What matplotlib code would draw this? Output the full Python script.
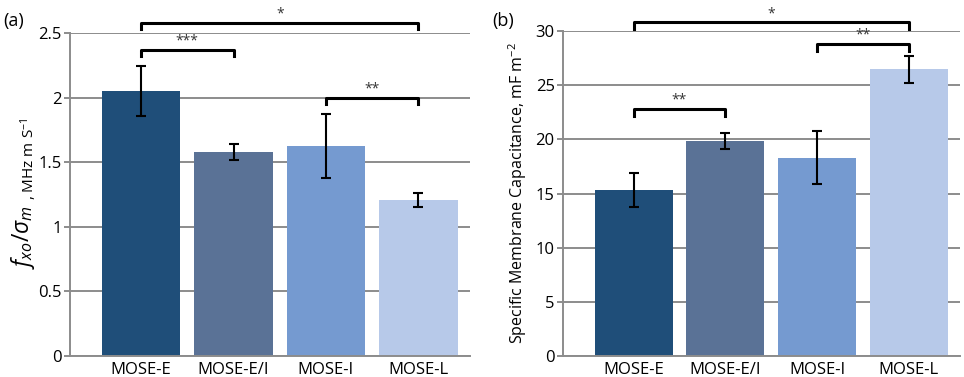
import matplotlib.pyplot as plt

plt.rcParams['font.family'] = ['Open Sans', 'DejaVu Sans']
plt.rcParams['mathtext.fontset'] = 'custom'
plt.rcParams['mathtext.it'] = 'Open Sans:italic'
plt.rcParams['mathtext.rm'] = 'Open Sans'

groups = ['MOSE-E', 'MOSE-E/I', 'MOSE-I', 'MOSE-L']
colors = ['#1F4E79', '#5A7296', '#759AD0', '#B7C9E9']

fxo_vals = [2.05, 1.58, 1.625, 1.21]
fxo_err = [0.195, 0.06, 0.245, 0.055]
fxo_sig = [(0, 3, 2.58, '*'), (0, 1, 2.37, '***'), (2, 3, 2.0, '**')]

cap_vals = [15.35, 19.85, 18.3, 26.45]
cap_err = [1.55, 0.7, 2.45, 1.25]
cap_sig = [(0, 3, 30.8, '*'), (0, 1, 22.8, '**'), (2, 3, 28.8, '**')]

grid_col = '#8C8C8C'

fig = plt.figure(figsize=(9.64, 3.77), dpi=100)
ax1 = fig.add_axes([0.0726, 0.0557, 0.415, 0.8568])
ax2 = fig.add_axes([0.584, 0.0557, 0.412, 0.862])


def draw_panel(ax, vals, errs, sig, ymax, ystep, bh):
    x = range(len(groups))
    ax.set_axisbelow(True)
    ax.yaxis.grid(True, color=grid_col, linewidth=1.4)
    ax.bar(x, vals, width=0.85, color=colors, zorder=2)
    ax.errorbar(x, vals, yerr=errs, fmt='none', ecolor='black',
                elinewidth=1.5, capsize=3.5, capthick=1.5, zorder=3)
    ax.set_xlim(-0.77, 3.56)
    ax.set_ylim(0, ymax)
    ticks = [i * ystep for i in range(int(round(ymax / ystep)) + 1)]
    ax.set_yticks(ticks)
    ax.set_yticklabels([('%g' % t) for t in ticks])
    ax.set_xticks(list(x))
    ax.set_xticklabels(groups)
    for s in ['top', 'right']:
        ax.spines[s].set_visible(False)
    for s in ['left', 'bottom']:
        ax.spines[s].set_color(grid_col)
        ax.spines[s].set_linewidth(1.4)
    ax.tick_params(axis='y', length=4, width=1.4, color=grid_col,
                   labelsize=12, pad=2)
    ax.tick_params(axis='x', length=0, labelsize=12, pad=4)
    for a, b, h, lab in sig:
        ax.plot([a, a, b, b], [h - bh, h, h, h - bh], color='black',
                linewidth=2.2, clip_on=False, zorder=4)
        ax.text((a + b) / 2, h + bh * 0.2, lab, ha='center', va='bottom',
                fontsize=10, color='#333333', clip_on=False)


draw_panel(ax1, fxo_vals, fxo_err, fxo_sig, 2.5, 0.5, 0.05)
draw_panel(ax2, cap_vals, cap_err, cap_sig, 30, 5, 0.6)

ax2.set_ylabel('Specific Membrane Capacitance, mF m$^{-2}$', fontsize=11.5,
               labelpad=5)

fig.text(0.024, 0.37, r'$f_{xo}/\sigma_m$', rotation=90, fontsize=16.5,
         ha='center', va='center')
fig.text(0.030, 0.578, r', MHz m S$^{-1}$', rotation=90, fontsize=11,
         ha='center', va='center')

fig.text(0.003, 0.945, '(a)', fontsize=13, ha='left', va='center')
fig.text(0.511, 0.945, '(b)', fontsize=13, ha='left', va='center')

fig.savefig('out.png', dpi=100)
